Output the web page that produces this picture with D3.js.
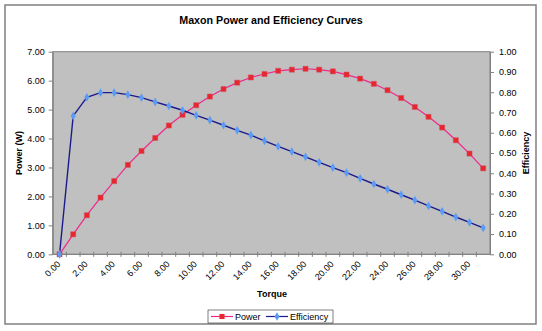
<!DOCTYPE html>
<html>
<head>
<meta charset="utf-8">
<script src="https://cdn.jsdelivr.net/npm/d3@7"></script>
<style>
  body { margin: 0; background: #fff; }
  svg { font-family: "Liberation Sans", Arial, sans-serif; }
  .axis path, .axis line { stroke: #808080; }
  .axis text { font-size: 9px; fill: #000; }
</style>
</head>
<body>
<div id="chart"></div>
<script>
const torque = [0,1,2,3,4,5,6,7,8,9,10,11,12,13,14,15,16,17,18,19,20,21,22,23,24,25,26,27,28,29,30,31];
const power = [0,0.69,1.35,1.96,2.53,3.09,3.57,4.02,4.45,4.82,5.15,5.45,5.71,5.93,6.11,6.23,
               6.34,6.38,6.41,6.38,6.32,6.21,6.07,5.89,5.67,5.40,5.09,4.75,4.38,3.94,3.48,2.97];
const efficiency = [0,0.683,0.775,0.798,0.798,0.788,0.773,0.752,0.732,0.711,0.686,0.662,0.637,0.612,0.588,0.560,
                    0.533,0.507,0.481,0.454,0.428,0.403,0.375,0.347,0.321,0.294,0.267,0.239,0.212,0.184,0.158,0.130];
const powerTicks = [0,1,2,3,4,5,6,7];
const effTicks = [0,0.1,0.2,0.3,0.4,0.5,0.6,0.7,0.8,0.9,1.0];
const labelEvery = 2;

const width = 542, height = 331
const plot = {left: 52.7, right: 490, top: 51.7, bottom: 254.3}

const svg = d3.select("#chart").append("svg").attr("width", width).attr("height", height)

// outer chart frame
svg.append("rect").attr("x", 5).attr("y", 5).attr("width", 531).attr("height", 319)
  .attr("fill", "#fff").attr("stroke", "#808080").attr("stroke-width", 1.5)

svg.append("text").text("Maxon Power and Efficiency Curves")
  .attr("x", 271).attr("y", 24).attr("text-anchor", "middle")
  .attr("font-size", 10.7).attr("font-weight", "bold")

const x = d3.scaleBand().domain(torque).range([plot.left, plot.right]).padding(0)
const yP = d3.scaleLinear().domain([0, 7]).range([plot.bottom, plot.top])
const yE = d3.scaleLinear().domain([0, 1]).range([plot.bottom, plot.top])
const cx = d => x(d) + x.bandwidth() / 2

// plot background
svg.append("rect").attr("x", plot.left).attr("y", plot.top)
  .attr("width", plot.right - plot.left).attr("height", plot.bottom - plot.top)
  .attr("fill", "#c0c0c0").attr("stroke", "#808080").attr("stroke-width", 1)

// left axis
svg.append("g").attr("class", "axis").attr("transform", `translate(${plot.left},0)`)
  .call(d3.axisLeft(yP).tickValues(powerTicks).tickFormat(d3.format(".2f")).tickSize(4).tickSizeOuter(0))
  .call(g => g.selectAll("text").attr("dx", "-1"))

// right axis
svg.append("g").attr("class", "axis").attr("transform", `translate(${plot.right},0)`)
  .call(d3.axisRight(yE).tickValues(effTicks).tickFormat(d3.format(".2f")).tickSize(4).tickSizeOuter(0))
  .call(g => g.selectAll("text").attr("dx", "2"))

// bottom axis: cross ticks on category boundaries, labels every 2 categories
const gx = svg.append("g").attr("class", "axis")
gx.append("line").attr("x1", plot.left).attr("x2", plot.right)
  .attr("y1", plot.bottom).attr("y2", plot.bottom)
gx.selectAll(".tk").data(torque.slice(1)).enter().append("line")
  .attr("x1", d => x(d)).attr("x2", d => x(d))
  .attr("y1", plot.bottom - 2.5).attr("y2", plot.bottom + 2.5)
gx.selectAll(".lbl").data(torque.filter((d, i) => i % labelEvery == 0)).enter().append("text")
  .text(d => d3.format(".2f")(d))
  .attr("text-anchor", "end")
  .attr("transform", d => `translate(${cx(d) - 3},${plot.bottom + 6}) rotate(-45)`)
  .attr("dy", "0.7em")

// axis titles
svg.append("text").text("Torque").attr("x", 272).attr("y", 297)
  .attr("text-anchor", "middle").attr("font-size", 9).attr("font-weight", "bold")
svg.append("text").text("Power (W)")
  .attr("transform", `translate(22,${(plot.top + plot.bottom) / 2}) rotate(-90)`)
  .attr("text-anchor", "middle").attr("font-size", 9).attr("font-weight", "bold")
svg.append("text").text("Efficiency")
  .attr("transform", `translate(529,${(plot.top + plot.bottom) / 2}) rotate(-90)`)
  .attr("text-anchor", "middle").attr("font-size", 9).attr("font-weight", "bold")

const powerColor = "#f0288c", powerMarker = "#e8262e"
const effColor = "#1a1a8c", effMarker = "#5b9bf5"

const pts = torque.map((t, i) => ({t: t, p: power[i], e: efficiency[i]}))

svg.append("path").datum(pts)
  .attr("fill", "none").attr("stroke", powerColor).attr("stroke-width", 1.2)
  .attr("d", d3.line().x(d => cx(d.t)).y(d => yP(d.p)))
svg.append("path").datum(pts)
  .attr("fill", "none").attr("stroke", effColor).attr("stroke-width", 1.4)
  .attr("d", d3.line().x(d => cx(d.t)).y(d => yE(d.e)))

const sq = d3.symbol().type(d3.symbolSquare).size(26)
const dia = d3.symbol().type(d3.symbolDiamond).size(22)

svg.selectAll(".pm").data(pts).enter().append("path")
  .attr("d", sq).attr("transform", d => `translate(${cx(d.t)},${yP(d.p)})`)
  .attr("fill", powerMarker).attr("stroke", "#d05060").attr("stroke-width", 0.5)
svg.selectAll(".em").data(pts).enter().append("path")
  .attr("d", dia).attr("transform", d => `translate(${cx(d.t)},${yE(d.e)})`)
  .attr("fill", effMarker)

// legend
const lg = svg.append("g")
lg.append("rect").attr("x", 208).attr("y", 310).attr("width", 125).attr("height", 13)
  .attr("fill", "#fff").attr("stroke", "#000").attr("stroke-width", 0.5)
const items = [
  {name: "Power", color: powerColor, marker: powerMarker, sym: sq, x0: 211},
  {name: "Efficiency", color: effColor, marker: effMarker, sym: dia, x0: 266}
]
items.forEach(it => {
  lg.append("line").attr("x1", it.x0).attr("x2", it.x0 + 22).attr("y1", 316.5).attr("y2", 316.5)
    .attr("stroke", it.color).attr("stroke-width", 1.2)
  lg.append("path").attr("d", it.sym).attr("transform", `translate(${it.x0 + 11},316.5)`)
    .attr("fill", it.marker)
  lg.append("text").text(it.name).attr("x", it.x0 + 24).attr("y", 320)
    .attr("font-size", 9)
})
</script>
</body>
</html>
